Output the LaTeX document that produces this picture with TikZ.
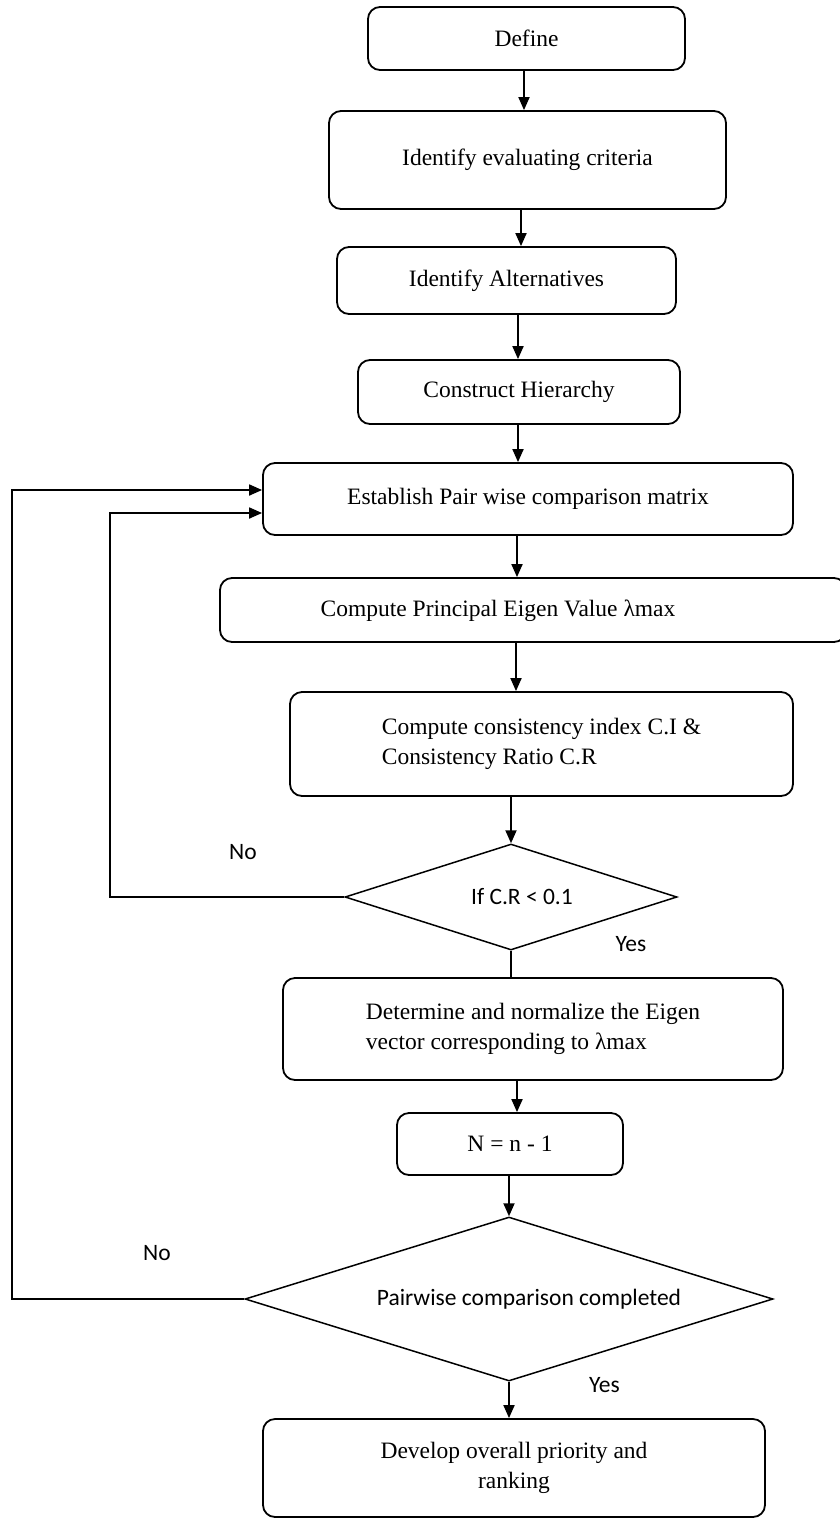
\documentclass[tikz,border=0pt]{standalone}
\usepackage{fontspec}
\setmainfont{Liberation Serif}
\newfontfamily\calibrifont{Carlito}
\usetikzlibrary{arrows.meta,shapes.geometric}
\begin{document}
\begin{tikzpicture}[x=1pt,y=-1pt,
  box/.style={draw, line width=1.8pt, rounded corners=12pt, fill=white, inner sep=0pt,
              font=\fontsize{23.5}{30.5}\selectfont},
  txt/.style={inner sep=0pt, font=\fontsize{23.5}{30.5}\selectfont},
  dec/.style={draw, diamond, line width=1.5pt, inner sep=0pt},
  lab/.style={inner sep=0pt, font=\calibrifont\fontsize{23.5}{28}\selectfont},
  arr/.style={line width=1.8pt, -{Triangle[length=13pt,width=11pt]}},
  lin/.style={line width=1.8pt}]

\useasboundingbox (0,0) rectangle (840,1519);
\clip (0,0) rectangle (840,1519);

% process steps
\node[box, minimum width=317pt, minimum height=63pt] (define) at (526.5,38.5) {Define};
\node[box, minimum width=397pt, minimum height=98pt] (crit) at (527.5,160) {Identify evaluating criteria};
\node[box, minimum width=339pt, minimum height=67pt] (alt) at (506.5,280.5) {Identify Alternatives};
\node[box, minimum width=322pt, minimum height=64pt] (hier) at (519,392) {Construct Hierarchy};
\node[box, minimum width=530pt, minimum height=72pt] (pair) at (528,499) {Establish Pair wise comparison matrix};
\node[box, minimum width=626pt, minimum height=64pt] (eigen) at (533,610) {};
\node[txt] (eigentext) at (498,611) {Compute Principal Eigen Value λmax};
\node[box, minimum width=503pt, minimum height=104pt, align=left] (consist) at (541.5,744)
  {Compute consistency index C.I \&\\Consistency Ratio C.R};

% consistency test
\node[dec, minimum width=332pt, minimum height=106pt] (check) at (511,897) {};
\node[lab] (checktext) at (522,897) {If C.R < 0.1};

\node[box, minimum width=500pt, minimum height=102pt, align=left] (norm) at (533,1029)
  {Determine and normalize the Eigen\\vector corresponding to λmax};
\node[box, minimum width=226pt, minimum height=62pt] (next) at (510,1144) {N = n - 1};

% completion test
\node[dec, minimum width=528pt, minimum height=164pt] (done) at (509,1299) {};
\node[lab] (donetext) at (529,1299) {Pairwise comparison completed};

\node[box, minimum width=502pt, minimum height=98pt, align=center] (rank) at (514,1468)
  {Develop overall priority and\\ranking};

% branch labels
\node[lab] (no1) at (243,852) {No};
\node[lab] (yes1) at (631,944) {Yes};
\node[lab] (no2) at (157,1253) {No};
\node[lab] (yes2) at (604.5,1385) {Yes};

% main flow
\draw[arr] (define.south -| 524,0) -- (crit.north -| 524,0);
\draw[arr] (crit.south -| 521,0) -- (alt.north -| 521,0);
\draw[arr] (alt.south -| 518,0) -- (hier.north -| 518,0);
\draw[arr] (hier.south -| 518,0) -- (pair.north -| 518,0);
\draw[arr] (pair.south -| 517,0) -- (eigen.north -| 517,0);
\draw[arr] (eigen.south -| 516,0) -- (consist.north -| 516,0);
\draw[arr] (consist.south -| 511,0) -- (check.north);
\draw[lin] (check.south) -- (norm.north -| check.south);
\draw[arr] (norm.south -| 517,0) -- (next.north -| 517,0);
\draw[arr] (next.south -| 509,0) -- (done.north);
\draw[arr] (done.south) -- (rank.north -| done.south);

% feedback loops
\draw[arr] (check.west) -- ++(-234,0) |- (pair.west |- 0,513);
\draw[arr] (done.west) -- ++(-232,0) |- (pair.west |- 0,490);
\end{tikzpicture}
\end{document}
